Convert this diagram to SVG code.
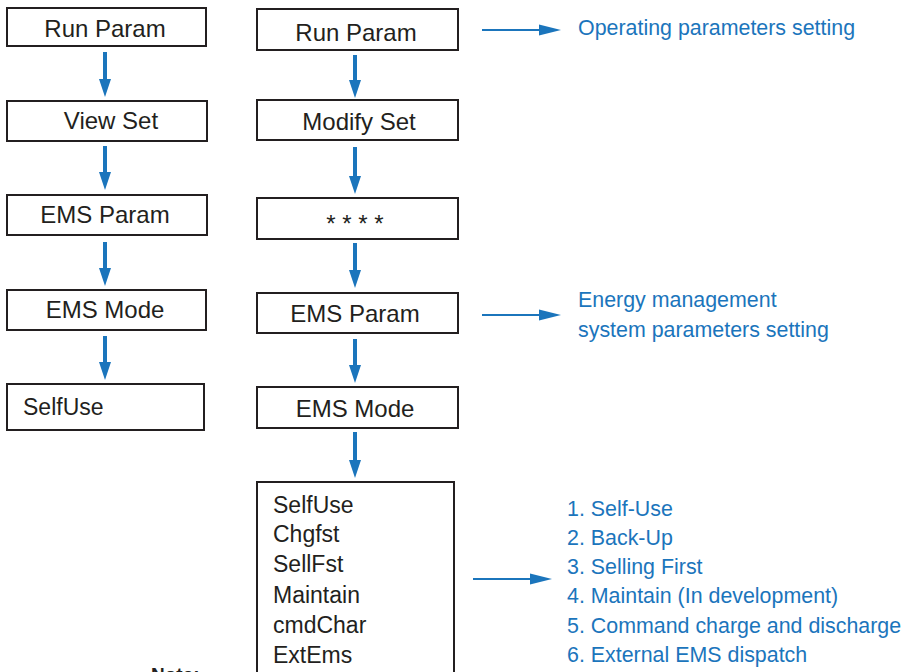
<svg xmlns="http://www.w3.org/2000/svg" width="908" height="672" viewBox="0 0 908 672">
<style>
.box{fill:#fff;stroke:#231f20;stroke-width:2}
.t{font-family:"Liberation Sans",Arial,sans-serif;font-size:24px;fill:#231f20}
.c{text-anchor:middle}
.l{font-size:23px}
.b{font-family:"Liberation Sans",Arial,sans-serif;font-size:21.4px;fill:#1b75bc}
.v{stroke:#1b75bc;stroke-width:4;fill:none}
.h{stroke:#1b75bc;stroke-width:2;fill:none}
</style>
<defs>
<marker id="ah" markerUnits="userSpaceOnUse" markerWidth="22" markerHeight="11" refX="0" refY="5.5" orient="auto" viewBox="0 0 22 11" overflow="visible">
<path d="M0,0 L22,5.5 L0,11 Z" fill="#1b75bc"/>
</marker>
</defs>

<g id="left-run-param"><rect class="box" x="7" y="8" width="199" height="38"/><text class="t c" x="105" y="37">Run Param</text></g>
<g id="left-view-set"><rect class="box" x="7" y="101" width="200" height="40"/><text class="t c" x="111" y="129">View Set</text></g>
<g id="left-ems-param"><rect class="box" x="7" y="195" width="200" height="40"/><text class="t c" x="105" y="223">EMS Param</text></g>
<g id="left-ems-mode"><rect class="box" x="7" y="290" width="199" height="40"/><text class="t c" x="105" y="318">EMS Mode</text></g>
<g id="left-selfuse"><rect class="box" x="7" y="384" width="197" height="46"/><text class="t l" x="23" y="415">SelfUse</text></g>

<g id="right-run-param"><rect class="box" x="257" y="9" width="201" height="41"/><text class="t c" x="356" y="41">Run Param</text></g>
<g id="right-modify-set"><rect class="box" x="257" y="100" width="201" height="40"/><text class="t c" x="359" y="130">Modify Set</text></g>
<g id="right-password"><rect class="box" x="257" y="198" width="201" height="41"/><text class="t c" x="355" y="232">* * * *</text></g>
<g id="right-ems-param"><rect class="box" x="257" y="293" width="201" height="40"/><text class="t c" x="355" y="322">EMS Param</text></g>
<g id="right-ems-mode"><rect class="box" x="257" y="387" width="201" height="41"/><text class="t c" x="355" y="417">EMS Mode</text></g>
<g id="right-mode-list"><rect class="box" x="257" y="482" width="197" height="210"/>
<text class="t l" x="273" y="513">SelfUse</text>
<text class="t l" x="273" y="542">Chgfst</text>
<text class="t l" x="273" y="572">SellFst</text>
<text class="t l" x="273" y="603">Maintain</text>
<text class="t l" x="273" y="633">cmdChar</text>
<text class="t l" x="273" y="663">ExtEms</text>
</g>

<g id="note-run"><text class="b" x="578" y="35">Operating parameters setting</text></g>
<g id="note-ems"><text class="b" x="578" y="307">Energy management</text><text class="b" x="578" y="337">system parameters setting</text></g>
<g id="note-modes">
<text class="b" x="567" y="516">1. Self-Use</text>
<text class="b" x="567" y="545">2. Back-Up</text>
<text class="b" x="567" y="574">3. Selling First</text>
<text class="b" x="567" y="603">4. Maintain (In development)</text>
<text class="b" x="567" y="633">5. Command charge and discharge</text>
<text class="b" x="567" y="662">6. External EMS dispatch</text>
</g>
<g id="note-label"><text x="151" y="681" font-family="Liberation Sans, Arial, sans-serif" font-size="19" font-weight="bold" fill="#231f20">Note:</text></g>

<g id="connectors">
<path d="M105,52 V79" class="v"/><path d="M99,79 H111 L105,97 Z" fill="#1b75bc"/>
<path d="M105,146 V172" class="v"/><path d="M99,172 H111 L105,190 Z" fill="#1b75bc"/>
<path d="M105,242 V268" class="v"/><path d="M99,268 H111 L105,286 Z" fill="#1b75bc"/>
<path d="M105,336 V362" class="v"/><path d="M99,362 H111 L105,380 Z" fill="#1b75bc"/>

<path d="M355,55 V80" class="v"/><path d="M349,80 H361 L355,98 Z" fill="#1b75bc"/>
<path d="M355,147 V176" class="v"/><path d="M349,176 H361 L355,194 Z" fill="#1b75bc"/>
<path d="M355,243 V270" class="v"/><path d="M349,270 H361 L355,288 Z" fill="#1b75bc"/>
<path d="M355,339 V365" class="v"/><path d="M349,365 H361 L355,383 Z" fill="#1b75bc"/>
<path d="M355,432 V460" class="v"/><path d="M349,460 H361 L355,478 Z" fill="#1b75bc"/>

<path d="M482,30 H539" class="h" marker-end="url(#ah)"/>
<path d="M482,315 H539" class="h" marker-end="url(#ah)"/>
<path d="M473,579 H530" class="h" marker-end="url(#ah)"/>
</g>
</svg>
